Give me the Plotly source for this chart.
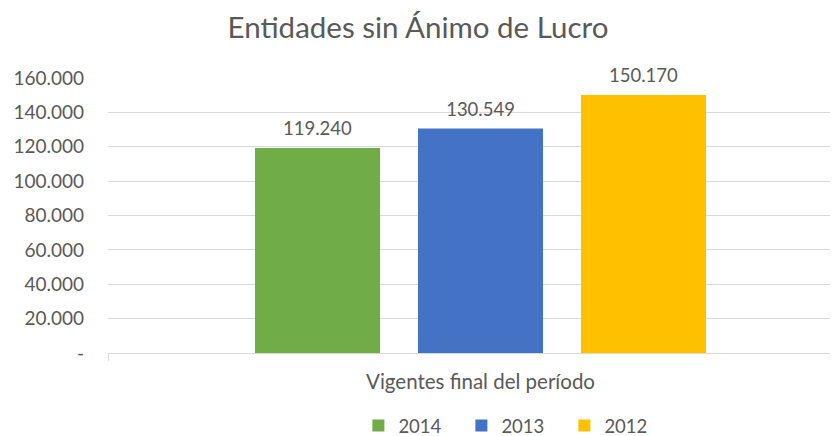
import plotly.graph_objects as go

category = ["Vigentes final del período"]
years = ["2014", "2013", "2012"]
values = [119240, 130549, 150170]
colors = ["#70AD47", "#4472C4", "#FFC000"]
tick_vals = [0, 20000, 40000, 60000, 80000, 100000, 120000, 140000, 160000]
tick_text = ["-", "20.000", "40.000", "60.000", "80.000", "100.000", "120.000", "140.000", "160.000"]

FONT = "Lato"
GREY = "#595959"

fig = go.Figure()
for yr, v, c in zip(years, values, colors):
    label = f"{v:,}".replace(",", ".")
    fig.add_trace(go.Bar(
        name=yr, x=category, y=[v], marker=dict(color=c, line=dict(width=0)),
        text=[f"<span style='font-size:18.5px'>{label}</span><br> "],
        textposition="outside",
        textfont=dict(family=FONT, size=7, color=GREY), cliponaxis=False,
    ))

fig.update_layout(
    width=838, height=436,
    margin=dict(l=100, r=8, t=70, b=91, autoexpand=False),
    paper_bgcolor="white", plot_bgcolor="white",
    barmode="group", bargap=0.3436, bargroupgap=0.233,
    title=dict(text="Entidades sin Ánimo de Lucro", x=410 / 838, xanchor="center",
               y=1 - 20 / 436, yanchor="middle",
               font=dict(family=FONT, size=29.5, color=GREY)),
    font=dict(family=FONT, size=18, color=GREY),
    legend=dict(orientation="h", x=0.343, xanchor="left", xref="paper",
                y=-0.265, yanchor="middle", font=dict(size=18.5, color=GREY),
                itemwidth=30, traceorder="normal",
                entrywidth=58, entrywidthmode="pixels"),
    showlegend=True,
)
fig.update_xaxes(range=[-0.5, 0.4798], showgrid=False, showline=True, linecolor="#D9D9D9",
                 linewidth=1, ticks="outside", tickson="boundaries", ticklen=7,
                 tickcolor="#D9D9D9", automargin=False,
                 tickfont=dict(family=FONT, size=20.5, color=GREY),
                 ticklabelstandoff=10)
fig.update_yaxes(range=[0, 160000], tickvals=tick_vals, ticktext=tick_text,
                 showgrid=True, gridcolor="#D9D9D9", gridwidth=1, zeroline=False,
                 showline=False, automargin=False,
                 tickfont=dict(family=FONT, size=19, color=GREY),
                 ticklabelstandoff=23)

fig.write_html("out.html")
